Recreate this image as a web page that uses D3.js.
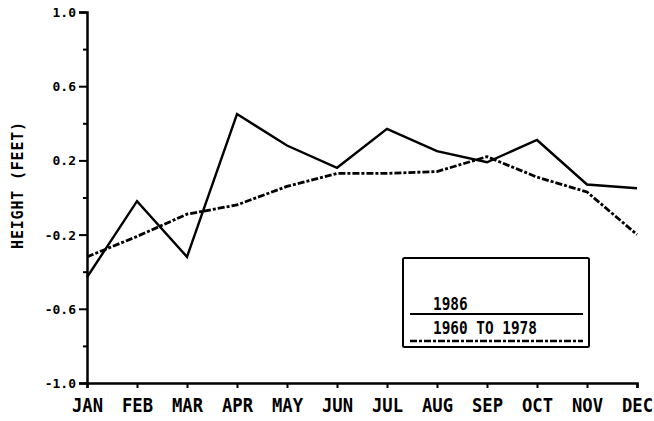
<!DOCTYPE html>
<html>
<head>
<meta charset="utf-8">
<script src="https://cdn.jsdelivr.net/npm/d3@7"></script>
<style>
  html, body { margin: 0; padding: 0; background: #fff; }
  svg { display: block; }
  text { font-family: "DejaVu Sans Mono", monospace; font-weight: bold; fill: #000; }
</style>
</head>
<body>
<svg id="chart" width="654" height="421"></svg>
<script>
const months = ["JAN","FEB","MAR","APR","MAY","JUN","JUL","AUG","SEP","OCT","NOV","DEC"];
const series1986 = [-0.43, -0.02, -0.32, 0.45, 0.28, 0.16, 0.37, 0.25, 0.19, 0.31, 0.07, 0.05];
const series1960to1978 = [-0.32, -0.21, -0.09, -0.04, 0.06, 0.13, 0.13, 0.14, 0.22, 0.11, 0.03, -0.20];
const yMajorTicks = [-1.0, -0.6, -0.2, 0.2, 0.6, 1.0];
const yMinorTicks = [-0.8, -0.4, 0.0, 0.4, 0.8];
const yDomain = [-1.0, 1.0];
const yLabel = "HEIGHT (FEET)";
const legendLabels = ["1986", "1960 TO 1978"];

const svg = d3.select("#chart");
const x = d3.scalePoint().domain(months).range([87, 637]);
const y = d3.scaleLinear().domain(yDomain).range([383, 12]);

const fmt = v => (v < 0 ? "-" : "") + Math.abs(v).toFixed(1);

// Y axis (major)
const gy = svg.append("g").attr("transform", "translate(87,0)")
  .call(d3.axisLeft(y).tickValues(yMajorTicks).tickFormat(fmt).tickSize(8).tickPadding(3));
gy.selectAll("text").attr("font-size", 13).attr("dy", "0.35em")
  .attr("font-family", "DejaVu Sans Mono").attr("font-weight", "bold");
// Y axis minor ticks
const gyMinor = svg.append("g").attr("transform", "translate(87,0)")
  .call(d3.axisLeft(y).tickValues(yMinorTicks).tickFormat("").tickSize(4));
gyMinor.select(".domain").remove();

// X axis
const gx = svg.append("g").attr("transform", "translate(0,383)")
  .call(d3.axisBottom(x).tickSize(5).tickPadding(10));
gx.selectAll(".tick text")
  .attr("font-size", 20).attr("dy", "0.71em")
  .attr("font-family", "DejaVu Sans Mono").attr("font-weight", "bold")
  .attr("transform", "scale(0.86,1)");

[gy, gyMinor, gx].forEach(g => {
  g.selectAll(".domain").attr("stroke", "#000").attr("stroke-width", 2.5);
  g.selectAll(".tick line").attr("stroke", "#000").attr("stroke-width", 2);
});

// Y label
svg.append("text")
  .attr("transform", "translate(23,185) rotate(-90)")
  .attr("text-anchor", "middle")
  .attr("font-size", 15)
  .attr("letter-spacing", 0.8)
  .text(yLabel);

// Lines
const line = d3.line().x((d, i) => x(months[i])).y(d => y(d));
svg.append("path").datum(series1986)
  .attr("d", line).attr("fill", "none").attr("stroke", "#000")
  .attr("stroke-width", 2.4).attr("stroke-linejoin", "miter");
svg.append("path").datum(series1960to1978)
  .attr("d", line).attr("fill", "none").attr("stroke", "#000")
  .attr("stroke-width", 2.8).attr("stroke-dasharray", "7,2,3,2");

// Legend
const lg = svg.append("g");
lg.append("rect").attr("x", 403).attr("y", 258).attr("width", 186).attr("height", 89)
  .attr("fill", "none").attr("stroke", "#000").attr("stroke-width", 2).attr("rx", 1.5);
lg.append("text").attr("transform", "translate(433,310) scale(0.8,1)")
  .attr("font-size", 18).text(legendLabels[0]);
lg.append("line").attr("x1", 410).attr("x2", 583).attr("y1", 314).attr("y2", 314)
  .attr("stroke", "#000").attr("stroke-width", 2);
lg.append("text").attr("transform", "translate(433,334) scale(0.8,1)")
  .attr("font-size", 18).text(legendLabels[1]);
lg.append("line").attr("x1", 410).attr("x2", 583).attr("y1", 341).attr("y2", 341)
  .attr("stroke", "#000").attr("stroke-width", 2.4).attr("stroke-dasharray", "7,2,3,2");
</script>
</body>
</html>
